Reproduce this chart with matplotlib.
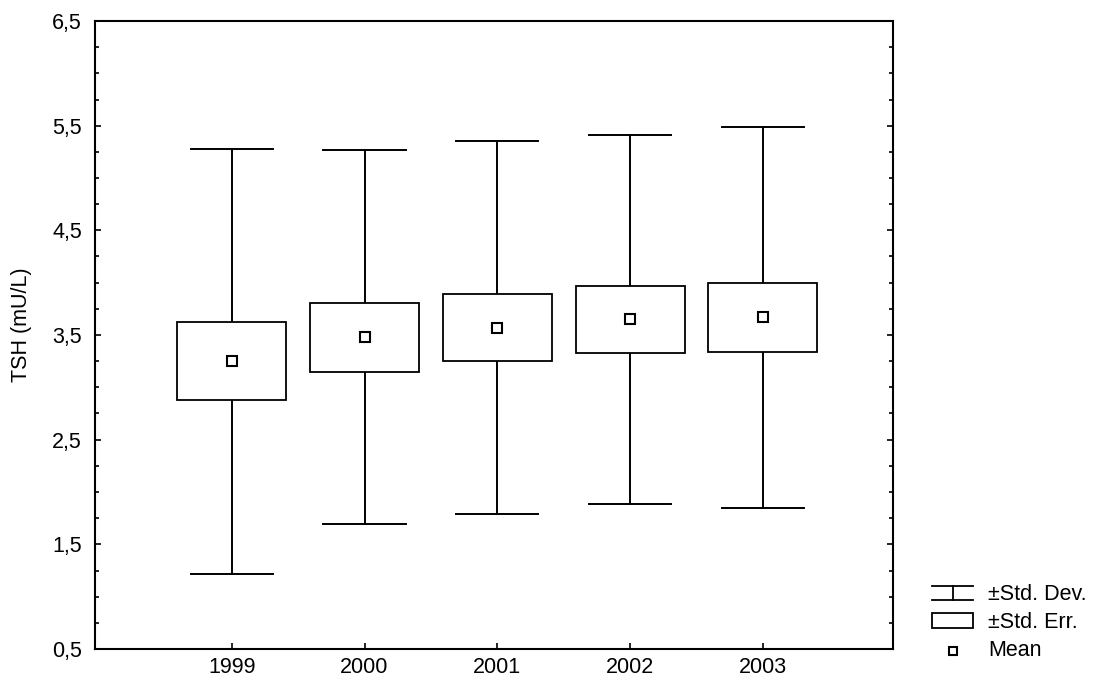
import matplotlib
matplotlib.use("Agg")
import matplotlib.pyplot as plt
from matplotlib.patches import Rectangle
from matplotlib.lines import Line2D
from matplotlib.ticker import MultipleLocator, FixedLocator

plt.rcParams['font.family'] = ['Liberation Sans', 'DejaVu Sans']

# TSH per year: mean, standard deviation, standard error
years = ["1999", "2000", "2001", "2002", "2003"]
means = [3.25, 3.48, 3.57, 3.65, 3.67]
sd = [2.03, 1.79, 1.78, 1.76, 1.82]
se = [0.37, 0.33, 0.32, 0.32, 0.33]

FS = 15.5
W, H = 1094, 681
fig = plt.figure(figsize=(W / 100, H / 100), dpi=100)
ax = fig.add_axes([95 / W, 1 - 649 / H, (893 - 95) / W, (649 - 21) / H])

box_w = 0.82
cap_w = 0.62
for i, (m, s, e) in enumerate(zip(means, sd, se)):
    # whiskers (+/- SD) from box edge to caps
    ax.plot([i, i], [m + e, m + s], color="black", lw=1.4)
    ax.plot([i, i], [m - s, m - e], color="black", lw=1.4)
    ax.plot([i - cap_w / 2, i + cap_w / 2], [m + s, m + s], color="black", lw=1.4)
    ax.plot([i - cap_w / 2, i + cap_w / 2], [m - s, m - s], color="black", lw=1.4)
    # +/- SE box
    ax.add_patch(Rectangle((i - box_w / 2, m - e), box_w, 2 * e,
                           facecolor="white", edgecolor="black", lw=1.3, zorder=3))
    # mean marker
    ax.plot(i, m, marker="s", ms=7, mfc="white", mec="black", mew=1.5, zorder=4)

ax.set_xlim(-1.03, 4.98)
ax.set_ylim(0.5, 6.5)
ax.xaxis.set_major_locator(FixedLocator(range(len(years))))
ax.set_xticklabels(years)
ax.yaxis.set_minor_locator(MultipleLocator(0.25))
ax.set_yticks([0.5, 1.5, 2.5, 3.5, 4.5, 5.5, 6.5])
ax.set_yticklabels(["0,5", "1,5", "2,5", "3,5", "4,5", "5,5", "6,5"])
ax.tick_params(axis="both", which="both", direction="in", labelsize=FS,
               width=1.2, right=True)
ax.tick_params(axis="y", which="major", length=4, pad=9.5)
ax.tick_params(axis="y", which="minor", length=3)
ax.tick_params(axis="x", which="major", length=4, pad=6)
for sp in ax.spines.values():
    sp.set_linewidth(1.5)

fig.text(22 / W, 1 - 325 / H, "TSH (mU/L)", rotation=90, fontsize=FS,
         ha="center", va="center")

# legend drawn in pixel space
lg = fig.add_axes([0, 0, 1, 1], facecolor="none")
lg.set_xlim(0, W)
lg.set_ylim(H, 0)
lg.axis("off")
lg.add_line(Line2D([932, 973], [586, 586], color="black", lw=1.3))
lg.add_line(Line2D([932, 973], [600, 600], color="black", lw=1.3))
lg.add_line(Line2D([953, 953], [586, 600], color="black", lw=1.3))
lg.text(988, 595, "±Std. Dev.", fontsize=FS, va="center")
lg.add_patch(Rectangle((932, 613), 41, 15, facecolor="white", edgecolor="black", lw=1.3))
lg.text(988, 623, "±Std. Err.", fontsize=FS, va="center")
lg.plot(953, 651, marker="s", ms=6, mfc="white", mec="black", mew=1.5)
lg.text(988, 651, "Mean", fontsize=FS, va="center")

fig.savefig("out.png", dpi=100)
